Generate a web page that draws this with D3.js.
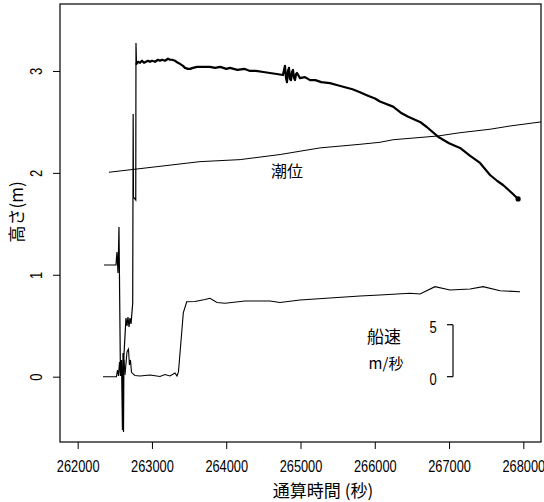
<!DOCTYPE html>
<html>
<head>
<meta charset="utf-8">
<script src="https://cdn.jsdelivr.net/npm/d3@7"></script>
<style>
 body { margin: 0; background: #fff; }
 svg { display: block; }
 .num { font-family: "Liberation Sans", Arial, sans-serif; }
 .jp { font-family: "Noto Sans CJK JP", sans-serif; }
</style>
</head>
<body>
<svg></svg>
<script>
 // height of the ship (m) vs elapsed seconds
 let heightTime = [262354, 262516, 262529, 262543, 262549, 262556, 262576, 262590, 262603, 262610,
      262617, 262623, 262650, 262664, 262677, 262691, 262704, 262718, 262727, 262741,
      262747, 262751, 262782, 262785, 262792, 262812, 262839, 262866, 262893, 262920,
      262947, 262974, 263001, 263041, 263081, 263108, 263135, 263176, 263216, 263243,
      263270, 263310, 263350, 263377, 263418, 263445, 263485, 263512, 263552, 263606,
      263647, 263700, 263781, 263850, 263920, 264000, 264051, 264150, 264250, 264320,
      264400, 264500, 264589, 264680, 264764, 264791, 264805, 264818, 264832, 264845,
      264859, 264872, 264886, 264899, 264913, 264926, 264940, 264953, 264993, 265060,
      265128, 265200, 265280, 265397, 265500, 265599, 265700, 265801, 265900, 266003,
      266070, 266138, 266246, 266350, 266450, 266609, 266700, 266852, 267000, 267148,
      267280, 267417, 267552, 267650, 267727, 267850, 267930]
 let heightVal = [1.096, 1.096, 1.224, 1.018, 1.194, 1.469, 0.007, 0.164, -0.523, 0.233,
      -0.543, 0.213, 0.576, 0.498, 0.586, 0.488, 0.576, 0.517, 0.595, 0.723,
      2.578, 1.763, 1.734, 3.275, 3.069, 3.09, 3.08, 3.10, 3.08, 3.09,
      3.10, 3.09, 3.10, 3.09, 3.11, 3.10, 3.11, 3.10, 3.12, 3.11,
      3.11, 3.10, 3.08, 3.07, 3.05, 3.03, 3.02, 3.02, 3.03, 3.04,
      3.04, 3.04, 3.04, 3.03, 3.04, 3.02, 3.03, 3.01, 3.02, 3.00,
      3.00, 2.99, 2.98, 2.97, 2.96, 3.05, 2.93, 2.89, 3.00, 3.03,
      2.92, 2.91, 2.99, 3.01, 2.93, 2.91, 2.97, 2.98, 2.93, 2.94,
      2.91, 2.91, 2.89, 2.88, 2.86, 2.84, 2.82, 2.79, 2.76, 2.73,
      2.70, 2.68, 2.65, 2.59, 2.55, 2.50, 2.45, 2.355, 2.29, 2.244,
      2.17, 2.097, 1.979, 1.92, 1.881, 1.80, 1.744]

 // ship speed (m/s)
 let speedTime = [262341, 262522, 262536, 262549, 262563, 262576, 262590, 262603, 262623, 262637,
      262664, 262684, 262697, 262711, 262724, 262745, 262772, 262839, 262974, 263108,
      263176, 263243, 263310, 263337, 263357, 263400, 263422, 263468, 263579, 263714,
      263781, 263876, 263983, 264253, 264589, 264724, 264993, 265397, 265801, 266070,
      266474, 266609, 266811, 267013, 267283, 267458, 267687, 267956]
 let speedVal = [0, 0, 0.64, 0.07, 1.41, 0.07, 1.13, 0.26, 1.61, 0.16,
      2.38, 2.66, 1.13, 1.61, 0.45, 0.26, 0.12, 0.07, 0.16, 0.02,
      0.21, 0.07, 0.36, 0.07, 0.45, 4.20, 6.13, 7.21, 7.23, 7.42,
      7.54, 7.14, 7.06, 7.28, 7.28, 7.14, 7.38, 7.57, 7.76, 7.86,
      8.02, 7.95, 8.66, 8.34, 8.44, 8.66, 8.27, 8.17]

 // tide level (m)
 let tideTime = [262421, 263646, 264187, 264725, 265263, 265800, 266070, 266246, 266852, 267148,
      267552, 267822, 268238]
 let tideVal = [2.006, 2.110, 2.130, 2.180, 2.245, 2.280, 2.300, 2.325, 2.362, 2.394,
      2.428, 2.460, 2.500]

 let xTicks = [262000, 263000, 264000, 265000, 266000, 267000, 268000]
 let yTicks = [0, 1, 2, 3]
 let speedTicks = [0, 5]

 let W = 544, H = 502
 let mLeft = 60, mRight = 541, mTop = 4, mBottom = 442

 var svg = d3.select("svg").attr("width", W).attr("height", H)

 var x = d3.scaleLinear().domain([261762, 268238]).range([mLeft, mRight])
 var y = d3.scaleLinear().domain([-0.641, 3.657]).range([mBottom, mTop])
 // speed drawn on the height axis, 5 m/s -> 0.51 m
 var ySpeed = d3.scaleLinear().domain([0, 5]).range([y(0), y(0.51)])

 function zipped(t, v){
      return t.map(function(d, i){ return [d, v[i]] })
 }

 svg.append("clipPath").attr("id", "plotclip")
      .append("rect").attr("x", mLeft).attr("y", mTop)
      .attr("width", mRight - mLeft).attr("height", mBottom - mTop)

 var plot = svg.append("g").attr("clip-path", "url(#plotclip)")

 var lineH = d3.line().x(function(d){ return x(d[0]) }).y(function(d){ return y(d[1]) })
 var lineS = d3.line().x(function(d){ return x(d[0]) }).y(function(d){ return ySpeed(d[1]) })

 plot.append("path")
      .datum(zipped(tideTime, tideVal))
      .attr("d", lineH)
      .attr("fill", "none").attr("stroke", "#000").attr("stroke-width", 1)

 plot.append("path")
      .datum(zipped(speedTime, speedVal))
      .attr("d", lineS)
      .attr("fill", "none").attr("stroke", "#000").attr("stroke-width", 1.1)

 // thin part before the jump, thick after
 let hData = zipped(heightTime, heightVal)
 plot.append("path")
      .datum(hData.slice(0, 25))
      .attr("d", lineH)
      .attr("fill", "none").attr("stroke", "#000").attr("stroke-width", 1.2)
 plot.append("path")
      .datum(hData.slice(24))
      .attr("d", lineH)
      .attr("fill", "none").attr("stroke", "#000").attr("stroke-width", 2.2)
      .attr("stroke-linejoin", "round").attr("stroke-linecap", "round")
 var last = hData[hData.length - 1]
 plot.append("circle").attr("cx", x(last[0])).attr("cy", y(last[1])).attr("r", 2.6).attr("fill", "#000")

 // frame
 svg.append("rect")
      .attr("x", mLeft).attr("y", mTop)
      .attr("width", mRight - mLeft).attr("height", mBottom - mTop)
      .attr("fill", "none").attr("stroke", "#000").attr("stroke-width", 1.2)

 // tall narrow digits like the original
 var xAxis = svg.append("g")
      .attr("transform", "translate(0," + mBottom + ")")
      .call(d3.axisBottom(x).tickValues(xTicks).tickSize(7).tickFormat(d3.format("d")))
 xAxis.select(".domain").remove()
 xAxis.selectAll("text")
      .attr("class", "num").attr("font-size", 12.8).attr("fill", "#000")
      .attr("y", 0).attr("dy", null).attr("dominant-baseline", "central")
      .attr("transform", "translate(0,24) scale(1,1.25)")

 var yAxis = svg.append("g")
      .attr("transform", "translate(" + mLeft + ",0)")
      .call(d3.axisLeft(y).tickValues(yTicks).tickSize(7).tickFormat(d3.format("d")))
 yAxis.select(".domain").remove()
 yAxis.selectAll("text")
      .attr("class", "num").attr("font-size", 13).attr("fill", "#000")
      .attr("x", null).attr("dy", null)
      .attr("text-anchor", "middle").attr("dominant-baseline", "central")
      .attr("transform", "translate(-24,0) rotate(-90) scale(1,1.25)")

 // speed scale bracket
 var bx = 453
 var sAxis = svg.append("g").attr("transform", "translate(" + bx + ",0)")
 sAxis.append("line").attr("x1", 0).attr("x2", 0)
      .attr("y1", ySpeed(0)).attr("y2", ySpeed(5)).attr("stroke", "#000").attr("stroke-width", 1.2)
 sAxis.selectAll(".stick").data(speedTicks).enter().append("line")
      .attr("x1", -6).attr("x2", 0)
      .attr("y1", function(d){ return ySpeed(d) }).attr("y2", function(d){ return ySpeed(d) })
      .attr("stroke", "#000").attr("stroke-width", 1.2)
 sAxis.selectAll(".slab").data(speedTicks).enter().append("text")
      .attr("class", "num").attr("font-size", 13)
      .attr("text-anchor", "middle").attr("dominant-baseline", "central")
      .attr("transform", function(d){ return "translate(-20," + (ySpeed(d) + 3) + ") scale(1,1.25)" })
      .text(function(d){ return d })

 svg.append("text").attr("class", "jp").attr("font-size", 17)
      .attr("x", 384).attr("y", 335).attr("text-anchor", "middle").attr("dominant-baseline", "central")
      .text("船速")
 svg.append("text").attr("class", "jp").attr("font-size", 15)
      .attr("x", 386).attr("y", 362).attr("text-anchor", "middle").attr("dominant-baseline", "central")
      .text("m/秒")

 svg.append("text").attr("class", "jp").attr("font-size", 16)
      .attr("x", 287).attr("y", 170).attr("text-anchor", "middle").attr("dominant-baseline", "central")
      .text("潮位")

 svg.append("text").attr("class", "jp").attr("font-size", 17)
      .attr("x", 323).attr("y", 489).attr("text-anchor", "middle").attr("dominant-baseline", "central")
      .text("通算時間 (秒)")

 svg.append("text").attr("class", "jp").attr("font-size", 17).attr("fill", "#000")
      .attr("text-anchor", "middle").attr("dominant-baseline", "central")
      .attr("transform", "translate(15,212) rotate(-90)")
      .text("高さ(m)")
</script>
</body>
</html>
